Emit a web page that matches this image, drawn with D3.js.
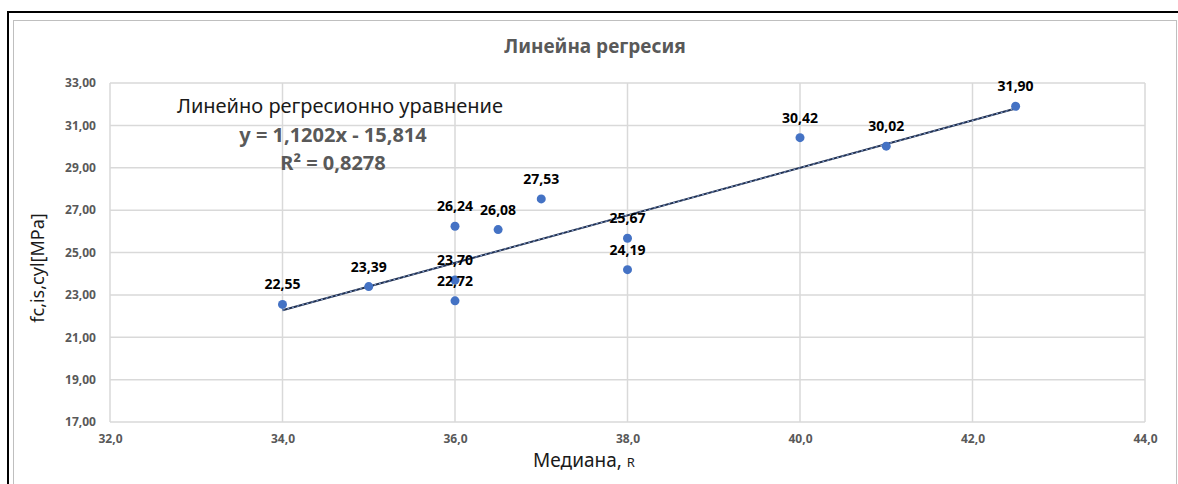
<!DOCTYPE html>
<meta charset="utf-8">
<style>
body { margin: 0; background: #fff; }
text { font-family: "Noto Sans", "DejaVu Sans", sans-serif; }
.tick text { font-size: 12px; font-weight: bold; fill: #595959; }
.grid line { stroke: #d9d9d9; }
.ptlabel { font-size: 14px; font-weight: bold; fill: #000; text-anchor: middle; }
</style>
<body>
<script src="https://cdn.jsdelivr.net/npm/d3@7"></script>
<script>
// values
var medians  = [34, 35, 36, 36, 36, 36.5, 37, 38, 38, 40, 41, 42.5];
var strength = [22.55, 23.39, 26.24, 23.70, 22.72, 26.08, 27.53, 25.67, 24.19, 30.42, 30.02, 31.90];
var xTicks = [32, 34, 36, 38, 40, 42, 44];
var yTicks = [17, 19, 21, 23, 25, 27, 29, 31, 33];
var slope = 1.1202, intercept = -15.814, r2 = 0.8278;

var W = 1178, H = 484;
var plotL = 110, plotR = 1145, plotT = 83, plotB = 422;

var svg = d3.select('body').append('svg').attr('width', W).attr('height', H);

// frame
svg.append('rect').attr('x', 13.5).attr('y', 20.5).attr('width', 1163).attr('height', 480)
   .attr('fill', 'none').attr('stroke', '#bfbfbf').attr('stroke-width', 1);
svg.append('line').attr('x1', 8).attr('x2', W).attr('y1', 12).attr('y2', 12)
   .attr('stroke', '#000').attr('stroke-width', 2);
svg.append('line').attr('x1', 8).attr('x2', 8).attr('y1', 11).attr('y2', H)
   .attr('stroke', '#000').attr('stroke-width', 2);

var x = d3.scaleLinear().domain([32, 44]).range([plotL, plotR]);
var y = d3.scaleLinear().domain([17, 33]).range([plotB, plotT]);

var fmt1 = function(d) { return d3.format('.1f')(d).replace('.', ','); };
var fmt2 = function(d) { return d3.format('.2f')(d).replace('.', ','); };

// gridlines
svg.append('g').attr('class', 'grid')
   .selectAll('line').data(yTicks).enter().append('line')
   .attr('x1', plotL).attr('x2', plotR)
   .attr('y1', function(d){ return y(d); }).attr('y2', function(d){ return y(d); })
   .attr('stroke-width', 1.5);
svg.append('g').attr('class', 'grid')
   .selectAll('line').data(xTicks).enter().append('line')
   .attr('y1', plotT).attr('y2', plotB)
   .attr('x1', function(d){ return x(d); }).attr('x2', function(d){ return x(d); })
   .attr('stroke-width', 1.5);

// axes (labels only)
var xAxis = d3.axisBottom(x).tickValues(xTicks).tickFormat(fmt1).tickSize(0).tickPadding(12);
svg.append('g').attr('transform', 'translate(0,' + plotB + ')').call(xAxis)
   .call(function(g){ g.select('.domain').remove(); });
var yAxis = d3.axisLeft(y).tickValues(yTicks).tickFormat(fmt2).tickSize(0).tickPadding(14);
svg.append('g').attr('transform', 'translate(' + plotL + ',0)').call(yAxis)
   .call(function(g){ g.select('.domain').remove(); });

// trendline
var xmin = d3.min(medians), xmax = d3.max(medians);
svg.append('line')
   .attr('x1', x(xmin)).attr('y1', y(slope * xmin + intercept))
   .attr('x2', x(xmax)).attr('y2', y(slope * xmax + intercept))
   .attr('stroke', '#1f2f4f').attr('stroke-width', 2);
svg.append('line')
   .attr('x1', x(xmin)).attr('y1', y(slope * xmin + intercept))
   .attr('x2', x(xmax)).attr('y2', y(slope * xmax + intercept))
   .attr('stroke', '#8faadc').attr('stroke-width', 1).attr('stroke-dasharray', '2,3');

// points
var pts = medians.map(function(m, i){ return {x: m, y: strength[i]}; });
svg.selectAll('circle.pt').data(pts).enter().append('circle')
   .attr('cx', function(d){ return x(d.x); })
   .attr('cy', function(d){ return y(d.y); })
   .attr('r', 4.5).attr('fill', '#4472c4');

svg.selectAll('text.ptlabel').data(pts).enter().append('text')
   .attr('class', 'ptlabel')
   .attr('x', function(d){ return x(d.x); })
   .attr('y', function(d){ return y(d.y) - 15; })
   .text(function(d){ return fmt2(d.y); });

// title
svg.append('text').attr('x', 595).attr('y', 53).attr('text-anchor', 'middle')
   .style('font-size', '19px').style('font-weight', 'bold').style('fill', '#595959')
   .text('Линейна регресия');

// equation box
svg.append('text').attr('x', 340).attr('y', 113).attr('text-anchor', 'middle')
   .style('font-size', '20px').style('fill', '#1a1a1a')
   .text('Линейно регресионно уравнение');
svg.append('text').attr('x', 333).attr('y', 142).attr('text-anchor', 'middle')
   .style('font-size', '20px').style('font-weight', 'bold').style('fill', '#595959')
   .text('y = ' + String(slope).replace('.', ',') + 'x - ' + String(-intercept).replace('.', ','));
svg.append('text').attr('x', 333).attr('y', 170).attr('text-anchor', 'middle')
   .style('font-size', '20px').style('font-weight', 'bold').style('fill', '#595959')
   .text('R² = ' + String(r2).replace('.', ','));

// axis titles
svg.append('text').attr('transform', 'translate(44,268) rotate(-90)').attr('text-anchor', 'middle')
   .style('font-size', '18px').style('fill', '#1a1a1a')
   .text('fc,is,cyl[MPa]');
var xt = svg.append('text').attr('x', 584).attr('y', 467).attr('text-anchor', 'middle')
   .style('font-size', '19px').style('fill', '#1a1a1a');
xt.append('tspan').text('Медиана, ');
xt.append('tspan').style('font-size', '13px').text('R');
</script>
</body>
